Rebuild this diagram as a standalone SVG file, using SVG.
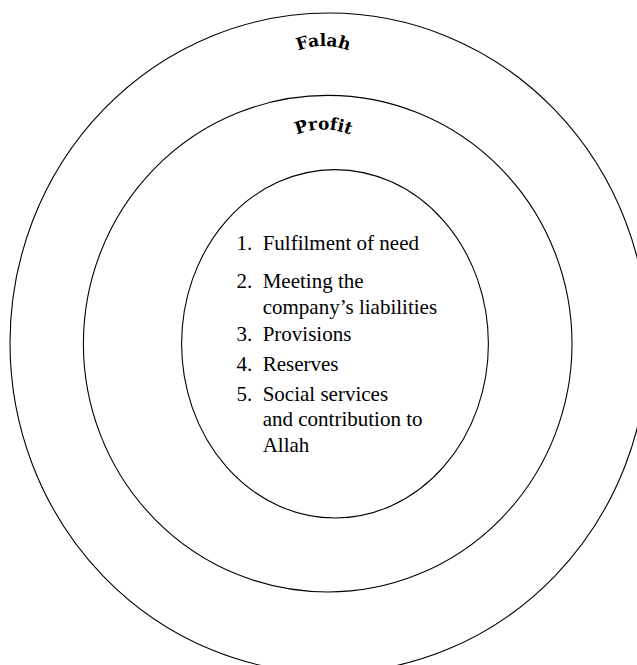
<svg xmlns="http://www.w3.org/2000/svg" width="637" height="665" viewBox="0 0 637 665">
  <style>
    .ring { fill: none; stroke: #000; stroke-width: 1.1; }
    .arc-label { font-family: "DejaVu Serif", "Liberation Serif", serif; font-weight: bold; font-size: 17px; fill: #000; font-variant-ligatures: none; }
    .item { font-family: "Liberation Serif", "Times New Roman", serif; font-size: 21px; fill: #000; }
  </style>
  <defs>
    <path id="falahArc" d="M 253.5,116 A 70,70 0 0 1 393.5,116"/>
    <path id="profitArc" d="M 253.5,199.5 A 70,70 0 0 1 393.5,199.5"/>
  </defs>
  <rect width="637" height="665" fill="#fff"/>
  <g id="falah">
    <ellipse class="ring" cx="329" cy="343" rx="319" ry="330"/>
    <text class="arc-label"><textPath href="#falahArc" startOffset="50%" text-anchor="middle">Falah</textPath></text>
  </g>
  <g id="profit">
    <ellipse class="ring" cx="327.7" cy="343.7" rx="244.3" ry="248.3"/>
    <text class="arc-label"><textPath href="#profitArc" startOffset="50%" text-anchor="middle">Profit</textPath></text>
  </g>
  <g id="needs">
    <ellipse class="ring" cx="335" cy="343.8" rx="153.4" ry="174.2"/>
    <text class="item" x="236.5" y="250">1.</text>
    <text class="item" x="262.7" y="250">Fulfilment of need</text>
    <text class="item" x="236.5" y="288.3">2.</text>
    <text class="item" x="262.7" y="288.3">Meeting the</text>
    <text class="item" x="262.7" y="314">company’s liabilities</text>
    <text class="item" x="236.5" y="340.5">3.</text>
    <text class="item" x="262.7" y="340.5">Provisions</text>
    <text class="item" x="236.5" y="371">4.</text>
    <text class="item" x="262.7" y="371">Reserves</text>
    <text class="item" x="236.5" y="400.8">5.</text>
    <text class="item" x="262.7" y="400.8">Social services</text>
    <text class="item" x="262.7" y="426.3">and contribution to</text>
    <text class="item" x="262.7" y="451.7">Allah</text>
  </g>
  <g id="connectors"/>
</svg>
